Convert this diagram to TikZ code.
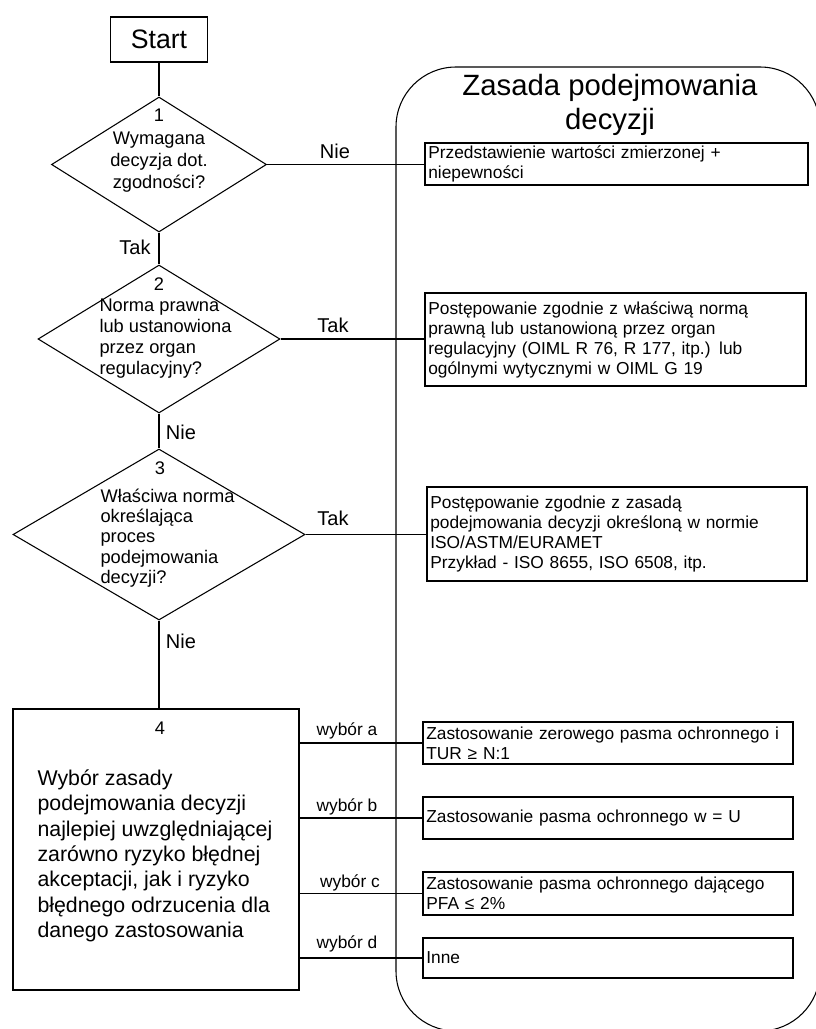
\documentclass[tikz,border=0pt]{standalone}
\usepackage{fontspec}
\setmainfont{Liberation Sans}
\usetikzlibrary{shapes.geometric}
\begin{document}
\begin{tikzpicture}[x=0.75pt,y=-0.75pt,line width=0.8pt,
  dia/.style={draw, diamond, inner sep=0pt},
  dtext/.style={inner sep=0pt, font=\fontsize{13.7}{16.5}\selectfont},
  lbl/.style={inner sep=0pt, font=\fontsize{13}{15}\selectfont},
  yn/.style={inner sep=0pt, font=\fontsize{15}{17}\selectfont},
  info/.style={draw, rectangle, align=left, inner xsep=2.5pt, inner ysep=0pt,
    font=\fontsize{13}{15}\selectfont}]
\useasboundingbox (0,0) rectangle (816,1029);
\begin{scope}
\clip (0,0) rectangle (816,1029);
% panel
\node[draw, rectangle, rounded corners=45pt, minimum width=318pt, minimum height=723pt, inner sep=0pt] (panel) at (608,549) {};
\end{scope}
\node[inner sep=0pt, align=center, font=\fontsize{22}{25.5}\selectfont] (title) at (610,105) {Zasada podejmowania\\decyzji};

% start
\node[draw, rectangle, minimum width=72.75pt, minimum height=33.75pt, inner sep=0pt, font=\fontsize{20}{24}\selectfont] (start) at (159,39.5) {Start};

% diamonds
\node[dia, minimum width=161.25pt, minimum height=101.25pt] (d1) at (159,164.5) {};
\node[dia, minimum width=181.5pt, minimum height=111pt] (d2) at (159,339) {};
\node[dia, minimum width=219pt, minimum height=128.25pt] (d3) at (159,534.5) {};

\node[dtext, align=center, font=\fontsize{13.7}{16.8}\selectfont] (t1) at (159,151) {1\\Wymagana\\decyzja dot.\\zgodności?};
\node[dtext] (n2) at (159,284) {2};
\node[dtext, align=left, anchor=west, font=\fontsize{13.7}{15.75}\selectfont] (t2) at (99,339) {Norma prawna\\lub ustanowiona\\przez organ\\regulacyjny?};
\node[dtext] (n3) at (160,468) {3};
\node[dtext, align=left, anchor=west, font=\fontsize{13.7}{15.25}\selectfont] (t3) at (100,538) {Właściwa norma\\określająca\\proces\\podejmowania\\decyzji?};

% box 4
\node[draw, rectangle, minimum width=214.5pt, minimum height=210.75pt, inner sep=0pt] (b4) at (156,849.5) {};
\node[dtext] (n4) at (160,728) {4};
\node[inner sep=0pt, align=left, anchor=west, font=\fontsize{16}{19}\selectfont] (t4) at (37,856) {Wybór zasady\\podejmowania decyzji\\najlepiej uwzględniającej\\zarówno ryzyko błędnej\\akceptacji, jak i ryzyko\\błędnego odrzucenia dla\\danego zastosowania};

% right boxes
\node[info, text width=282.25pt, minimum height=31.5pt] (b1) at (616.5,164) {Przedstawienie wartości zmierzonej +\\niepewności};
\node[info, text width=280.75pt, minimum height=69.75pt] (b2) at (615.5,339.5) {Postępowanie zgodnie z właściwą normą\\prawną lub ustanowioną przez organ\\regulacyjny (OIML R 76, R 177, itp.) lub\\ogólnymi wytycznymi w OIML G 19};
\node[info, text width=280pt, minimum height=70.5pt] (b3) at (617,534) {Postępowanie zgodnie z zasadą\\podejmowania decyzji określoną w normie\\ISO/ASTM/EURAMET\\Przykład - ISO 8655, ISO 6508, itp.};
\node[info, text width=272.5pt, minimum height=31.5pt] (ba) at (608,743) {Zastosowanie zerowego pasma ochronnego i\\TUR ≥ N:1};
\node[info, text width=272.5pt, minimum height=31.5pt] (bb) at (608,818) {Zastosowanie pasma ochronnego w = U};
\node[info, text width=272.5pt, minimum height=32.25pt] (bc) at (608,893.5) {Zastosowanie pasma ochronnego dającego\\PFA ≤ 2\%};
\node[info, text width=272.5pt, minimum height=30pt] (bd) at (608,958) {Inne};

% connectors
\draw (start.south) -- (d1.north);
\draw (d1.south) -- (d2.north);
\draw (d2.south) -- (d3.north);
\draw (d3.south) -- (d3.south |- b4.north);
\draw (d1.east) -- (d1.east -| b1.west);
\draw (d2.east) -- (d2.east -| b2.west);
\draw (d3.east) -- (d3.east -| b3.west);
\draw (ba.west -| b4.east) -- (ba.west);
\draw (bb.west -| b4.east) -- (bb.west);
\draw (bc.west -| b4.east) -- (bc.west);
\draw (bd.west -| b4.east) -- (bd.west);

% labels
\node[yn] (l1) at (135,247) {Tak};
\node[yn] (l2) at (181,432) {Nie};
\node[yn] (l3) at (181,641) {Nie};
\node[yn] (l4) at (335,151) {Nie};
\node[yn] (l5) at (333,325) {Tak};
\node[yn] (l6) at (333,518) {Tak};
\node[lbl] (la) at (347,731) {wybór a};
\node[lbl] (lb) at (347,807) {wybór b};
\node[lbl] (lc) at (350,883) {wybór c};
\node[lbl] (ld) at (347,944) {wybór d};
\end{tikzpicture}
\end{document}
